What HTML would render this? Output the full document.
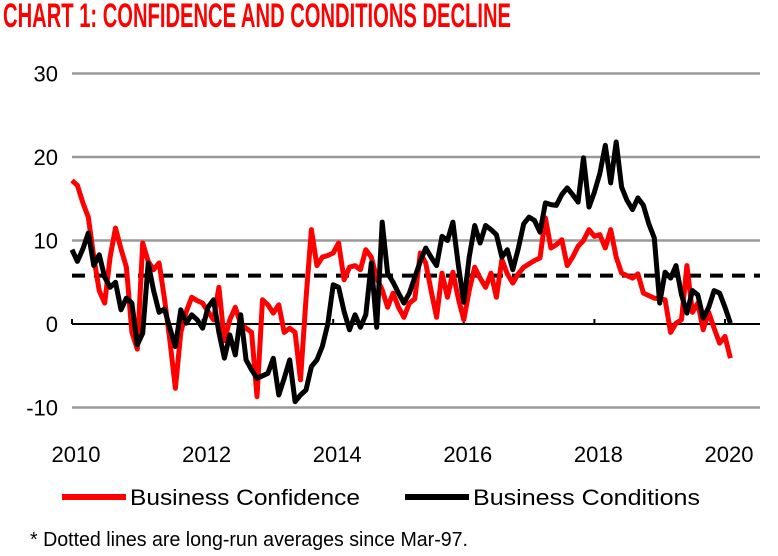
<!DOCTYPE html>
<html><head><meta charset="utf-8"><style>
html,body{margin:0;padding:0;background:#fff;}
svg{display:block;font-family:"Liberation Sans",sans-serif;}
</style></head><body>
<svg id="chart" width="778" height="556" viewBox="0 0 778 556" xmlns="http://www.w3.org/2000/svg">
<text x="3" y="27" font-size="34" font-weight="bold" fill="#ff0000" textLength="508" lengthAdjust="spacingAndGlyphs" font-family="Liberation Sans Narrow, Liberation Sans, sans-serif">CHART 1: CONFIDENCE AND CONDITIONS DECLINE</text>
<g id="grid"></g>
<g id="yaxis"></g>
<g id="xaxis"></g>
<g id="series"></g>
<g>
  <g>
    <line x1="62" y1="497" x2="126" y2="497" stroke="#ff0000" stroke-width="6"/>
    <text x="130" y="505" font-size="22" fill="#000" textLength="230" lengthAdjust="spacingAndGlyphs">Business Confidence</text>
  </g>
  <g>
    <line x1="405" y1="497" x2="469" y2="497" stroke="#000" stroke-width="6"/>
    <text x="473" y="505" font-size="22" fill="#000" textLength="227" lengthAdjust="spacingAndGlyphs">Business Conditions</text>
  </g>
</g>
<text x="30" y="546" font-size="20" fill="#000" textLength="438" lengthAdjust="spacingAndGlyphs">* Dotted lines are long-run averages since Mar-97.</text>
</svg>
<script>
const yTicks = [30, 20, 10, 0, -10];
const xTickYears = [2010, 2012, 2014, 2016, 2018, 2020];
const longRunAverage = [5.8];
const confidence = [17.2,16.6,14.5,12.8,8,4,2.5,8,11.5,9,6.8,-1,-3,9.7,7.5,6.5,7.3,3,-2,-7.7,-1,1.5,3.2,2.8,2.5,1.5,0.5,4.4,-2,0.5,2,0,-0.5,-1,-8.7,2.9,2.3,1.3,2.3,-1,-0.5,-1,-6.7,3,11.3,7,8,8.2,8.5,9.7,5.3,6.8,7,6.5,8.9,8,5.5,4.1,2,3.7,2,0.8,2.5,3,8.5,7.3,4,0.8,6.1,3.2,6.2,3,0.5,4,6.8,5.5,4.4,6.1,3.2,7.7,6,4.9,6,6.8,7.2,7.6,7.9,12.7,9.1,9.5,10.1,7,8,9.3,10,11.3,10.5,10.7,9.1,11.3,8,6.1,5.8,5.5,6,3.7,3.4,3.1,3,2.9,-1,0.1,0.5,7,1.4,2.5,-0.7,1.4,-0.5,-2.3,-1.5,-4.1];
const conditions = [8.9,7.5,9,10.9,7,8.3,5.6,4.4,5,1.7,3.1,2.5,-2.5,-1.1,7.3,4,1.4,1.8,-0.5,-2.7,1.7,0.1,1.1,0.5,-0.5,2,2.9,-1,-4.1,-1.3,-3.7,1.1,-4.3,-5.5,-6.5,-6.2,-5.9,-4.1,-8.5,-6.5,-4.3,-9.3,-8.5,-7.9,-5.1,-4.3,-2.7,0,4.7,4.4,1.5,-0.7,1.1,-0.4,1.1,7.3,-0.4,12.2,6.1,5,3.7,2.5,3.7,5.6,7.5,9.1,8,7,10.5,10,12.2,7,2.6,8,11.8,9.7,11.8,11.3,10.7,8,8.9,6.5,9,12,12.8,12.4,11,14.5,14.3,14.2,15.5,16.3,15.5,14.6,19.9,14,15.8,18,21.4,16.9,21.8,16.4,14.8,13.7,15.1,14.2,12,10.3,2.5,6.2,5.5,7,3.5,1.3,4,3.5,0.7,2,4,3.7,2,0.1];

const NS = 'http://www.w3.org/2000/svg';
const X0 = 72, PX_PER_MONTH = 65.3 / 12, Y0 = 324, PX_PER_UNIT = 8.35, XEND = 760;
function xs(m) { return X0 + m * PX_PER_MONTH; }
function ys(v) { return Y0 - v * PX_PER_UNIT; }
function mk(tag, attrs, parent) {
  const e = document.createElementNS(NS, tag);
  for (const k in attrs) e.setAttribute(k, attrs[k]);
  parent.appendChild(e);
  return e;
}
const grid = document.getElementById('grid');
const yaxis = document.getElementById('yaxis');
const xaxis = document.getElementById('xaxis');
const series = document.getElementById('series');

yTicks.forEach(v => {
  if (v !== 0) {
    const g = mk('line', {x1: X0, x2: XEND, y1: ys(v), y2: ys(v), stroke: '#999', 'stroke-width': 2.5}, grid);
    
    
  }
  const t = mk('text', {x: 58, y: ys(v) + 8, 'text-anchor': 'end', 'font-size': 22, fill: '#000'}, yaxis);
  t.textContent = v;
  
  
});

const avg = mk('line', {x1: X0, x2: XEND, y1: ys(longRunAverage[0]), y2: ys(longRunAverage[0]), stroke: '#000', 'stroke-width': 4, 'stroke-dasharray': '13 9'}, series);



function drawLine(data, color, name) {
  const d = data.map((v, i) => (i ? 'L' : 'M') + xs(i).toFixed(1) + ',' + ys(v).toFixed(1)).join(' ');
  const p = mk('path', {d: d, fill: 'none', stroke: color, 'stroke-width': 5, 'stroke-linejoin': 'round'}, series);
  
  
}
drawLine(confidence, '#ff0000', 'business-confidence-line');
drawLine(conditions, '#000000', 'business-conditions-line');

const zero = mk('line', {x1: X0, x2: XEND, y1: Y0, y2: Y0, stroke: '#000', 'stroke-width': 2}, xaxis);


xTickYears.forEach(yr => {
  const x = xs((yr - 2010) * 12);
  const tk = mk('line', {x1: x, x2: x, y1: Y0, y2: Y0 - 5, stroke: '#000', 'stroke-width': 2}, xaxis);
  
  
  const t = mk('text', {x: x + 4, y: 462, 'text-anchor': 'middle', 'font-size': 22, fill: '#000'}, xaxis);
  t.textContent = yr;
  
  
});
</script>
</body></html>
